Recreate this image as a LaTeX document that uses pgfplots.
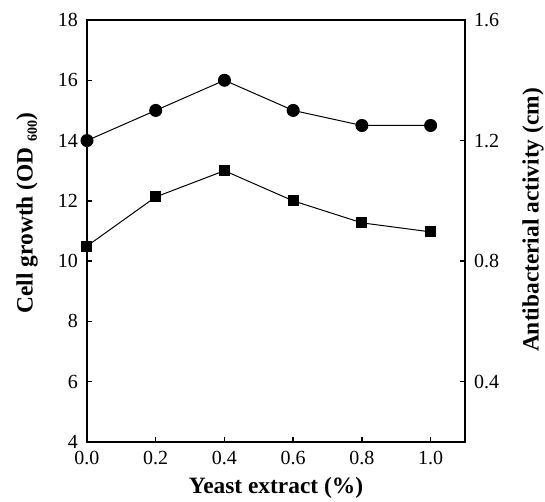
\documentclass[border=0pt]{standalone}
\usepackage{fontspec}
\setmainfont{Liberation Serif}
\usepackage{pgfplots}
\pgfplotsset{compat=1.18}
\begin{document}
\begin{tikzpicture}
\pgfplotsset{every axis/.append style={
 scale only axis, width=189pt, height=211pt, xmin=0, xmax=1.1, clip=false,
 axis line style={line width=0.9pt}, tick align=inside, major tick length=2.5pt,
 tick style={line width=0.7pt, black},
 tick label style={font=\fontsize{10}{12}\selectfont},
 label style={font=\fontsize{11.7}{13}\selectfont\bfseries},
 /pgf/number format/assume math mode=true,
}}
\begin{axis}[
 ymin=4, ymax=18, ytick={4,6,8,10,12,14,16,18},
 xtick={0,0.2,0.4,0.6,0.8,1.0},
 xticklabel style={/pgf/number format/fixed, /pgf/number format/fixed zerofill, /pgf/number format/precision=1, yshift=-1pt},
 yticklabel style={xshift=-1pt},
 xtick pos=bottom, ytick pos=left,
 xlabel={Yeast extract (\%)},
 xlabel style={at={(axis description cs:0.5,0)}, anchor=center, yshift=-23pt},
 ylabel={Cell growth (OD \raisebox{-0.4ex}{\scriptsize 600})},
 ylabel style={at={(axis description cs:0,0.5)}, anchor=center, rotate=0, xshift=9pt, yshift=30pt},
]
\addplot[black, line width=0.5pt, mark=*, mark size=3pt] coordinates {(0,14)(0.2,15)(0.4,16)(0.6,15)(0.8,14.5)(1.0,14.5)};
\end{axis}
\begin{axis}[
 ymin=0.2, ymax=1.6, ytick={0.4,0.8,1.2,1.6},
 hide x axis, axis y line*=right, ytick pos=right,
 yticklabel style={/pgf/number format/fixed, /pgf/number format/fixed zerofill, /pgf/number format/precision=1, xshift=1pt},
 ylabel={Antibacterial activity (cm)},
 ylabel style={at={(axis description cs:1,0.5)}, anchor=center, xshift=5.5pt, yshift=-34pt},
]
\addplot[black, line width=0.5pt, mark=square*, mark size=2.5pt] coordinates {(0,0.85)(0.2,1.013)(0.4,1.10)(0.6,1.00)(0.8,0.927)(1.0,0.897)};
\end{axis}
\pgfresetboundingbox
\path[use as bounding box] (-43.5pt,-30pt) rectangle (229pt,221pt);
\end{tikzpicture}
\end{document}
